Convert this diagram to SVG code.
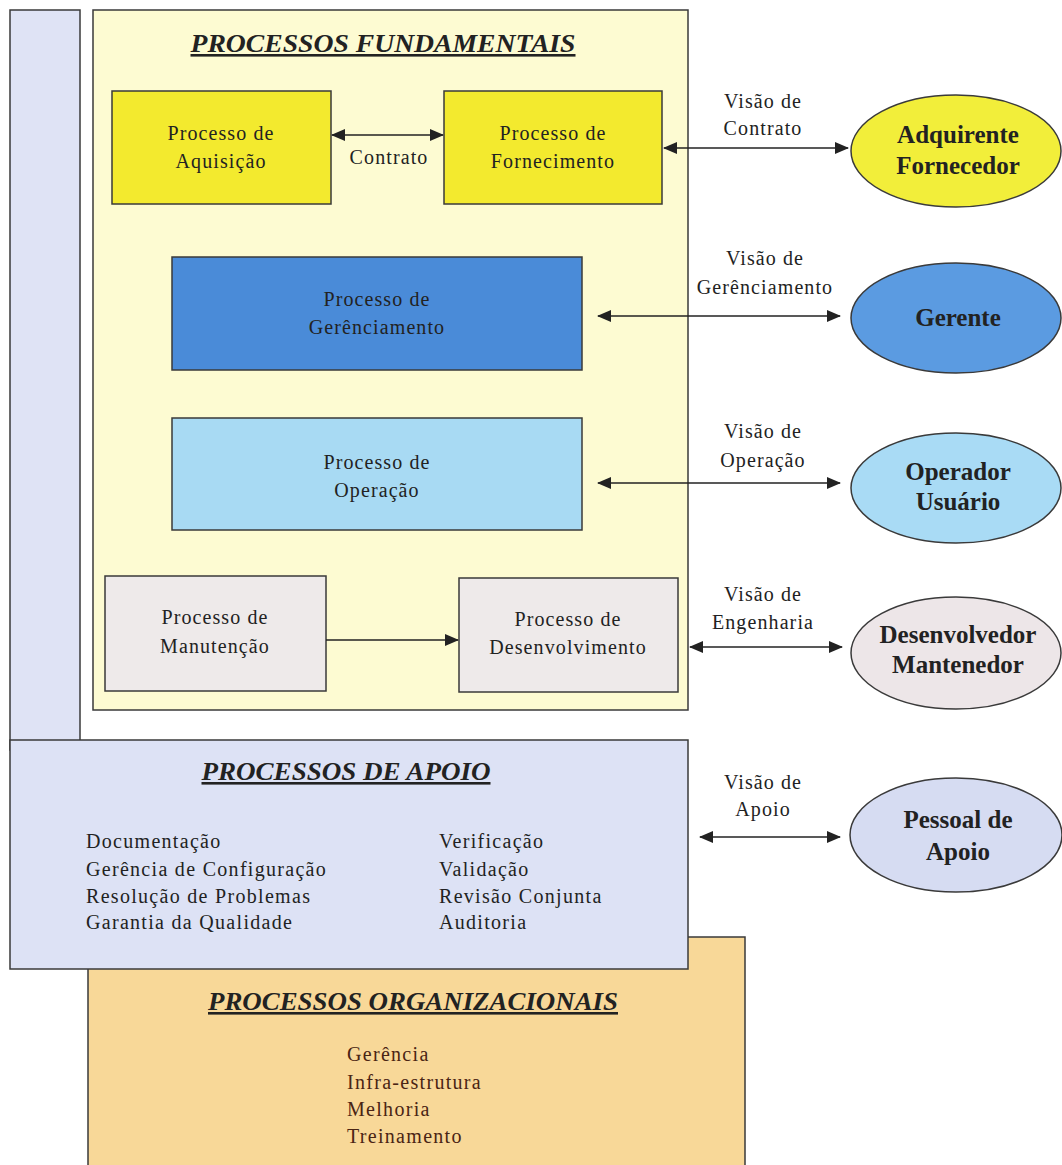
<svg xmlns="http://www.w3.org/2000/svg" width="1062" height="1165" viewBox="0 0 1062 1165">
<style>
.box{stroke:#3a3a3a;stroke-width:1.5}
.t{font-family:"Liberation Serif","Times New Roman",serif;font-size:20px;letter-spacing:1.1px;fill:#222;text-anchor:middle}
.tl{font-family:"Liberation Serif","Times New Roman",serif;font-size:20px;letter-spacing:1.3px;fill:#222}
.org{fill:#4a2414}
.h{font-family:"Liberation Serif","Times New Roman",serif;font-size:26px;font-weight:bold;font-style:italic;fill:#222;text-anchor:middle;text-decoration:underline}
.e{font-family:"Liberation Serif","Times New Roman",serif;font-size:25px;font-weight:bold;fill:#222;text-anchor:middle}
.c{stroke:#222;stroke-width:1.5;fill:none;marker-end:url(#ah)}
.cc{stroke:#222;stroke-width:1.5;fill:none;marker-end:url(#ah);marker-start:url(#ahs)}
</style>
<defs>
<marker id="ah" markerWidth="14" markerHeight="12" refX="13" refY="6" orient="auto" markerUnits="userSpaceOnUse"><path d="M0,0 L14,6 L0,12 Z" fill="#222"/></marker>
<marker id="ahs" markerWidth="14" markerHeight="12" refX="1" refY="6" orient="auto" markerUnits="userSpaceOnUse"><path d="M14,0 L0,6 L14,12 Z" fill="#222"/></marker>
</defs>
<rect width="1062" height="1165" fill="#ffffff"/>

<g id="barra-lateral"><rect class="box" x="10" y="10" width="70" height="740" fill="#dfe3f5"/></g>

<g id="processos-fundamentais">
<rect class="box" x="93" y="10" width="595" height="700" fill="#fdfbd2"/>
<text class="h" x="383" y="52" textLength="385" lengthAdjust="spacingAndGlyphs">PROCESSOS FUNDAMENTAIS</text>
</g>

<g id="processos-organizacionais">
<rect class="box" x="88" y="937" width="657" height="240" fill="#f8d898"/>
<text class="h org" x="413" y="1010" textLength="410" lengthAdjust="spacingAndGlyphs">PROCESSOS ORGANIZACIONAIS</text>
<text class="tl org" x="347" y="1061">Gerência</text>
<text class="tl org" x="347" y="1089">Infra-estrutura</text>
<text class="tl org" x="347" y="1116">Melhoria</text>
<text class="tl org" x="347" y="1143">Treinamento</text>
</g>

<g id="processos-apoio">
<rect class="box" x="10" y="740" width="678" height="229" fill="#dde2f5"/>
<text class="h" x="346" y="780" textLength="289" lengthAdjust="spacingAndGlyphs">PROCESSOS DE APOIO</text>
<text class="tl" x="86" y="848">Documentação</text>
<text class="tl" x="86" y="876">Gerência de Configuração</text>
<text class="tl" x="86" y="903">Resolução de Problemas</text>
<text class="tl" x="86" y="929">Garantia da Qualidade</text>
<text class="tl" x="439" y="848">Verificação</text>
<text class="tl" x="439" y="876">Validação</text>
<text class="tl" x="439" y="903">Revisão Conjunta</text>
<text class="tl" x="439" y="929">Auditoria</text>
</g>

<g id="aquisicao"><rect class="box" x="112" y="91" width="219" height="113" fill="#f3ea2e"/>
<text class="t" x="221" y="140">Processo de</text><text class="t" x="221" y="168">Aquisição</text></g>
<g id="fornecimento"><rect class="box" x="444" y="91" width="218" height="113" fill="#f3ea2e"/>
<text class="t" x="553" y="140">Processo de</text><text class="t" x="553" y="168">Fornecimento</text></g>
<g id="gerenciamento"><rect class="box" x="172" y="257" width="410" height="113" fill="#4a8bd8"/>
<text class="t" x="377" y="306">Processo de</text><text class="t" x="377" y="334">Gerênciamento</text></g>
<g id="operacao"><rect class="box" x="172" y="418" width="410" height="112" fill="#a8daf3"/>
<text class="t" x="377" y="469">Processo de</text><text class="t" x="377" y="497">Operação</text></g>
<g id="manutencao"><rect class="box" x="105" y="576" width="221" height="115" fill="#eeeaea"/>
<text class="t" x="215" y="624">Processo de</text><text class="t" x="215" y="653">Manutenção</text></g>
<g id="desenvolvimento"><rect class="box" x="459" y="578" width="219" height="114" fill="#eeeaea"/>
<text class="t" x="568" y="626">Processo de</text><text class="t" x="568" y="654">Desenvolvimento</text></g>

<g id="adquirente"><ellipse class="box" cx="956" cy="151" rx="105" ry="56" fill="#f2ee3a"/>
<text class="e" x="958" y="143">Adquirente</text><text class="e" x="958" y="174">Fornecedor</text></g>
<g id="gerente"><ellipse class="box" cx="956" cy="318" rx="105" ry="55" fill="#5b9be1"/>
<text class="e" x="958" y="326">Gerente</text></g>
<g id="operador"><ellipse class="box" cx="956" cy="488" rx="105" ry="55" fill="#a9dbf5"/>
<text class="e" x="958" y="480">Operador</text><text class="e" x="958" y="510">Usuário</text></g>
<g id="desenvolvedor"><ellipse class="box" cx="956" cy="653" rx="105" ry="56" fill="#ede6e8"/>
<text class="e" x="958" y="643">Desenvolvedor</text><text class="e" x="958" y="673">Mantenedor</text></g>
<g id="pessoal"><ellipse class="box" cx="956" cy="835" rx="106" ry="57" fill="#d6dcf2"/>
<text class="e" x="958" y="828">Pessoal de</text><text class="e" x="958" y="860">Apoio</text></g>

<g id="conectores">
<line class="cc" x1="332" y1="135" x2="443" y2="135"/>
<text class="t" x="389" y="164">Contrato</text>
<line class="cc" x1="664" y1="148" x2="848" y2="148"/>
<text class="t" x="763" y="108">Visão de</text><text class="t" x="763" y="135">Contrato</text>
<line class="cc" x1="598" y1="316" x2="840" y2="316"/>
<text class="t" x="765" y="265">Visão de</text><text class="t" x="765" y="294">Gerênciamento</text>
<line class="cc" x1="598" y1="483" x2="840" y2="483"/>
<text class="t" x="763" y="438">Visão de</text><text class="t" x="763" y="467">Operação</text>
<line class="c" x1="326" y1="640" x2="458" y2="640"/>
<line class="cc" x1="690" y1="647" x2="842" y2="647"/>
<text class="t" x="763" y="601">Visão de</text><text class="t" x="763" y="629">Engenharia</text>
<line class="cc" x1="700" y1="837" x2="840" y2="837"/>
<text class="t" x="763" y="789">Visão de</text><text class="t" x="763" y="816">Apoio</text>
</g>
</svg>
